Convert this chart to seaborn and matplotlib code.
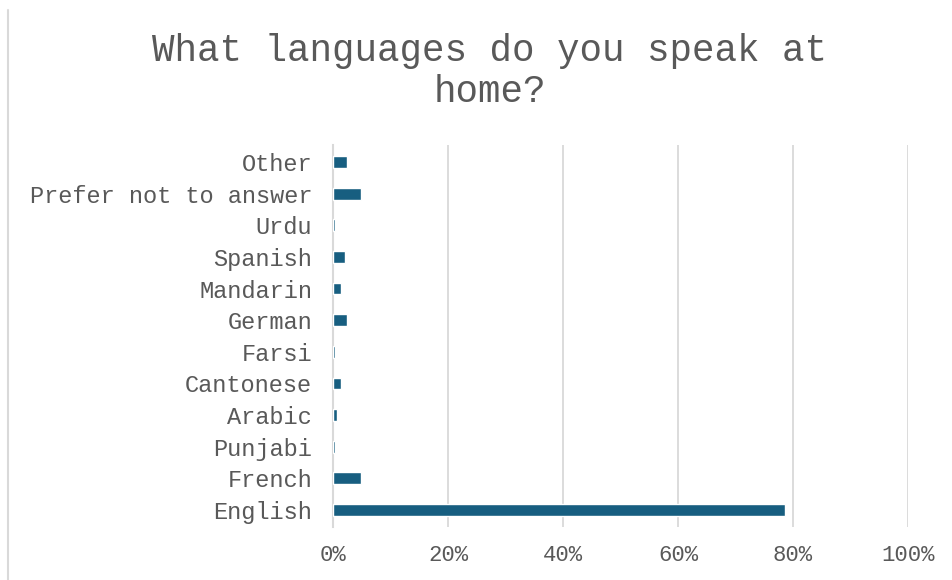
import matplotlib
matplotlib.use("Agg")
import matplotlib.pyplot as plt
from matplotlib.lines import Line2D
from matplotlib.ticker import FuncFormatter
import seaborn as sns
import pandas as pd

languages = ["Other", "Prefer not to answer", "Urdu", "Spanish", "Mandarin",
             "German", "Farsi", "Cantonese", "Arabic", "Punjabi", "French", "English"]
shares = [2.4, 4.9, 0.4, 2.1, 1.4, 2.4, 0.4, 1.4, 0.7, 0.4, 4.9, 78.6]
x_ticks = [0, 20, 40, 60, 80, 100]

df = pd.DataFrame({"language": languages, "share": shares})

sns.set_theme(style="white")
plt.rcParams["font.family"] = ["Liberation Mono", "DejaVu Sans Mono"]

text_color = "#595959"
grid_color = "#d9d9d9"
bar_color = "#175e80"

fig = plt.figure(figsize=(9.52, 5.8), dpi=100)
ax = fig.add_axes([333 / 952, 1 - 527 / 580, 575 / 952, 382 / 580])

sns.barplot(data=df, x="share", y="language", order=languages,
            color=bar_color, width=0.37, saturation=1, ax=ax, zorder=3)

ax.set_xlim(0, 100)
ax.set_ylim(len(languages) - 0.46, -0.54)
ax.set_xticks(x_ticks)
ax.xaxis.set_major_formatter(FuncFormatter(lambda v, _: f"{v:.0f}%"))
ax.grid(axis="x", color=grid_color, linewidth=1.3, zorder=0)
ax.grid(axis="y", visible=False)
ax.set_xlabel("")
ax.set_ylabel("")

for side in ["top", "right", "bottom"]:
    ax.spines[side].set_visible(False)
ax.spines["left"].set_color(grid_color)
ax.spines["left"].set_linewidth(1.5)
ax.spines["left"].set_zorder(2)

ax.tick_params(axis="y", length=0, pad=15, labelsize=17, labelcolor=text_color)
ax.tick_params(axis="x", length=0, pad=13, labelsize=16, labelcolor=text_color)

fig.text(490 / 952, 1 - 71.5 / 580, "What languages do you speak at\nhome?",
         ha="center", va="center", fontsize=27, color=text_color, linespacing=1.15)

# chart frame edge on the left
fig.add_artist(Line2D([8 / 952, 8 / 952], [0, 1 - 10 / 580],
                      transform=fig.transFigure, color=grid_color, linewidth=1.5))

fig.savefig("out.png", dpi=100, facecolor="white")
